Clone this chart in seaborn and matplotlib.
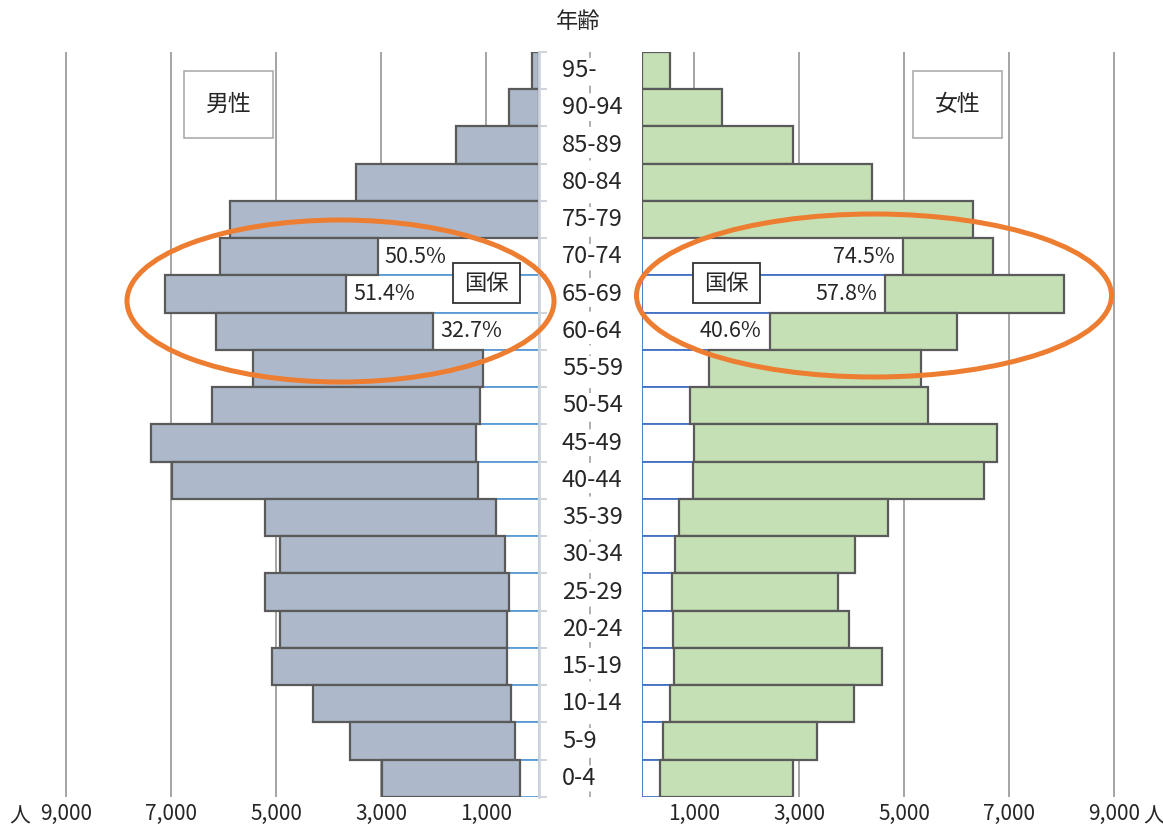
import numpy as np
import pandas as pd
import matplotlib
matplotlib.use("Agg")
import matplotlib.pyplot as plt
import matplotlib.transforms as mtransforms
from matplotlib.patches import Ellipse, Rectangle
import seaborn as sns

# 年齢階級（上から高齢順）
ages = ["95-", "90-94", "85-89", "80-84", "75-79", "70-74", "65-69", "60-64",
        "55-59", "50-54", "45-49", "40-44", "35-39", "30-34", "25-29", "20-24",
        "15-19", "10-14", "5-9", "0-4"]

# 人口（人）と、そのうち国保加入者（人）
male_total = [120, 560, 1568, 3478, 5884, 6058, 7122, 6152, 5438, 6211,
              7377, 6985, 5213, 4928, 5206, 4922, 5074, 4288, 3587, 2989]
male_kokuho = [0, 0, 0, 0, 0, 3060, 3661, 2012, 1057, 1109,
               1181, 1160, 817, 642, 554, 598, 606, 533, 453, 343]

female_total = [540, 1539, 2880, 4389, 6320, 6686, 8040, 6008, 5330, 5461,
                6779, 6518, 4688, 4061, 3739, 3958, 4585, 4046, 3347, 2880]
female_kokuho = [0, 0, 0, 0, 0, 4981, 4647, 2439, 1284, 926,
                 1000, 985, 714, 634, 575, 606, 613, 539, 415, 343]

# 加入率を表示する年齢階級
rate_ages = ["70-74", "65-69", "60-64"]

xticks = [1000, 3000, 5000, 7000, 9000]
xtick_labels = ["1,000", "3,000", "5,000", "7,000", "9,000"]

sns.set_style("white")
plt.rcParams["font.family"] = ["Noto Sans CJK JP", "DejaVu Sans"]

W, H = 1163, 830
fig = plt.figure(figsize=(W / 100, H / 100), dpi=100)

px_per_unit = 52.5 / 1000.0
center_m, center_f = 538.5, 641.5
top_px, bot_px = 52, 797
ax_b = 1 - bot_px / H
ax_h = (bot_px - top_px) / H

ax_m = fig.add_axes([0, ax_b, center_m / W, ax_h])
ax_f = fig.add_axes([center_f / W, ax_b, (W - center_f) / W, ax_h])

df = pd.DataFrame({
    "age": ages,
    "male_total": male_total, "male_kokuho": male_kokuho,
    "female_total": female_total, "female_kokuho": female_kokuho,
})
df["male_other"] = df["male_total"] - df["male_kokuho"]
df["female_other"] = df["female_total"] - df["female_kokuho"]
pos = np.arange(len(ages))

GRID = "#8c8c8c"
EDGE = "#5a5a5a"

for ax, sex, fill, blue in [(ax_m, "male", "#ADB9CA", "#5B9BD5"),
                            (ax_f, "female", "#C5E0B4", "#4472C4")]:
    sub = df[df[f"{sex}_kokuho"] > 0]
    # 国保加入者（中央から白抜き）
    sns.barplot(data=sub, y="age", x=f"{sex}_kokuho", order=ages, orient="h",
                color="white", edgecolor=blue, linewidth=1.3, width=1.0,
                saturation=1, ax=ax, zorder=2)
    # 国保以外（外側へ積み上げ）
    ax.barh(pos, df[f"{sex}_other"], left=df[f"{sex}_kokuho"], height=1.0,
            color=fill, edgecolor=EDGE, linewidth=1.6, zorder=3)
    ax.set_ylim(len(ages) - 0.5, -0.5)
    ax.set_xlabel("")
    ax.set_ylabel("")
    ax.set_xticks(xticks)
    ax.set_xticklabels(xtick_labels, fontsize=15)
    ax.tick_params(axis="x", length=0, pad=4)
    ax.grid(axis="x", color=GRID, linewidth=1.1)
    ax.grid(axis="y", visible=False)
    ax.set_axisbelow(True)
    for s in ax.spines.values():
        s.set_visible(False)

    for age in rate_ages:
        i = ages.index(age)
        k = df.loc[i, f"{sex}_kokuho"]
        t = df.loc[i, f"{sex}_total"]
        if sex == "male":
            ax.annotate(f"{100 * k / t:.1f}%", (k, i), xytext=(7, 0),
                        textcoords="offset pixels", ha="left", va="center",
                        fontsize=15.5, zorder=5)
        else:
            ax.annotate(f"{100 * k / t:.1f}%", (k, i), xytext=(-8, 0),
                        textcoords="offset pixels", ha="right", va="center",
                        fontsize=15.5, zorder=5)

ax_m.set_xlim(center_m / px_per_unit, 0)
ax_f.set_xlim(0, (W - center_f) / px_per_unit)

# 男性側の中央軸と区切り目盛
ax_m.spines["right"].set_visible(True)
ax_m.spines["right"].set_color("#D0D5DD")
ax_m.spines["right"].set_linewidth(2)
ax_m.spines["right"].set_zorder(6)
ax_m.yaxis.tick_right()
ax_m.set_yticks(np.arange(len(ages) + 1) - 0.5)
ax_m.set_yticklabels([])
ax_m.tick_params(axis="y", right=True, length=6, width=1.5, color="#D0D5DD")
ax_f.set_yticks([])

# 注記用の全面レイヤー（ピクセル座標）
ov = fig.add_axes([0, 0, 1, 1], facecolor="none")
ov.set_xlim(0, W)
ov.set_ylim(H, 0)
ov.axis("off")

# 年齢ラベル列
ov.plot([590, 590], [top_px, bot_px], color="#9a9a9a", lw=1.1,
        linestyle=(0, (5, 6)), zorder=1)
row_tr = mtransforms.blended_transform_factory(ov.transData, ax_m.transData)
for i, age in enumerate(ages):
    ov.text(562, i, age, transform=row_tr, ha="left", va="center", fontsize=17,
            bbox=dict(boxstyle="square,pad=0.05", fc="white", ec="none"),
            zorder=2)
ov.text(578, 22, "年齢", ha="center", va="center", fontsize=16)

# 単位
ov.text(20, 817, "人", ha="center", va="center", fontsize=15)
ov.text(1154, 817, "人", ha="center", va="center", fontsize=15)

# 性別の見出し
for x0, label in [(183.5, "男性"), (913, "女性")]:
    ov.add_patch(Rectangle((x0, 71), 89, 67, fc="white", ec="#a6a6a6", lw=1.1,
                           zorder=3))
    ov.text(x0 + 44.5, 104.5, label, ha="center", va="center", fontsize=16.5,
            zorder=4)

# 国保の注記
for x0 in [452.5, 693]:
    ov.add_patch(Rectangle((x0, 263), 67, 40, fc="white", ec="#333333", lw=1.3,
                           zorder=3))
    ov.text(x0 + 33.5, 283, "国保", ha="center", va="center", fontsize=16,
            zorder=4)

# 強調の楕円
ov.add_patch(Ellipse((340.5, 301), 427, 162, fill=False, ec="#ED7D31", lw=3.6,
                     zorder=5))
ov.add_patch(Ellipse((874, 295.5), 475, 163, fill=False, ec="#ED7D31", lw=3.6,
                     zorder=5))

fig.savefig("out.png", dpi=100)
